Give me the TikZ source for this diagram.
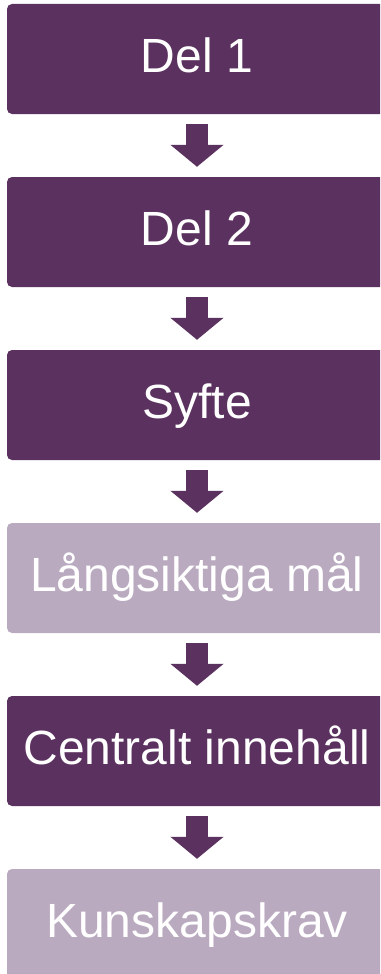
\documentclass[tikz,border=0pt]{standalone}
\usepackage{fontspec}
\setmainfont{Liberation Sans}
\usetikzlibrary{positioning}
\usetikzlibrary{arrows.meta}
\definecolor{darkpurple}{RGB}{91,49,95}
\definecolor{lightpurple}{RGB}{186,170,192}
\tikzset{
    stepdark/.style = {rectangle, rounded corners=5pt, fill=darkpurple, text=white, minimum width=380pt, minimum height=110pt, inner sep=0pt, text height=36pt, text depth=10pt, font=\fontsize{48}{58}\selectfont},
    steplight/.style = {stepdark, fill=lightpurple},
    blockarrow/.style = {-{Triangle[width=52pt,length=22pt]}, line width=22pt, draw=darkpurple, shorten <=10pt, shorten >=10pt}
}

\begin{document}
\begin{tikzpicture}[x=1pt,y=1pt]
\useasboundingbox (0,0) rectangle (380,-974);
\clip (0,0) rectangle (380,-974);
\node[stepdark] at (197,-59) (del1) {Del 1};
\node[stepdark] at (197,-232) (del2) {Del 2};
\node[stepdark] at (197,-405) (syfte) {Syfte};
\node[steplight] at (197,-578) (mal) {Långsiktiga mål};
\node[stepdark] at (197,-751) (innehall) {Centralt innehåll};
\node[steplight] at (197,-924) (krav) {Kunskapskrav};
%
\draw[blockarrow] (del1) -- (del2);
\draw[blockarrow] (del2) -- (syfte);
\draw[blockarrow] (syfte) -- (mal);
\draw[blockarrow] (mal) -- (innehall);
\draw[blockarrow] (innehall) -- (krav);
\end{tikzpicture}
\end{document}
